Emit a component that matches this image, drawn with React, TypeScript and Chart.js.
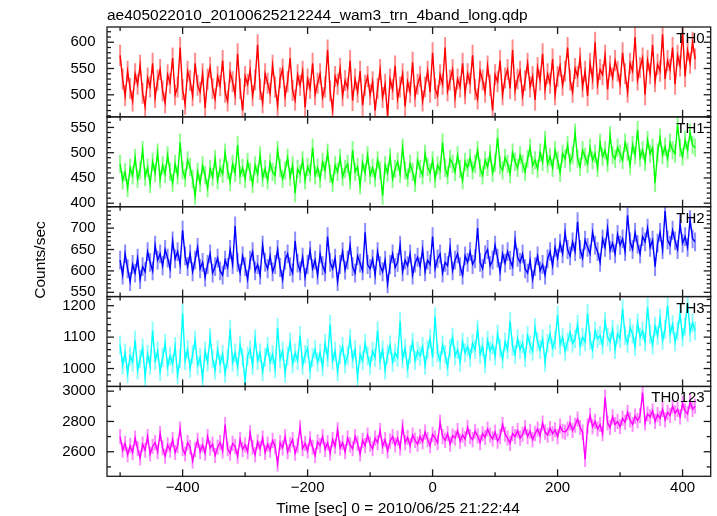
import React, { useEffect, useRef } from 'react';
import { Chart, registerables } from 'chart.js';

Chart.register(...registerables);

const TITLE = 'ae405022010_20100625212244_wam3_trn_4band_long.qdp';
const X_LABEL = 'Time [sec] 0 = 2010/06/25 21:22:44';
const Y_LABEL = 'Counts/sec';

// time grid of the light curve bins (seconds)
const BIN_START = -500;
const BIN_WIDTH = 4;
const X_MIN = -521;
const X_MAX = 445;
const X_MAJOR = [-400, -200, 0, 200, 400];
const X_MINOR_STEP = 100;

const bandNames = ['TH0', 'TH1', 'TH2', 'TH3', 'TH0123'];

const th0 = [
  575, 530, 498, 545, 512, 488, 540, 520, 556, 503, 478, 532, 515, 560, 495, 528, 548, 507, 485, 538,
  522, 570, 500, 515, 590, 510, 482, 545, 527, 498, 560, 518, 505, 540, 475, 530, 552, 512, 492, 535,
  517, 565, 505, 488, 543, 525, 500, 578, 512, 470, 535, 520, 547, 498, 528, 595, 510, 485, 540, 522,
  503, 556, 515, 480, 532, 549, 497, 525, 570, 508, 490, 538, 518, 545, 476, 530, 512, 560, 500, 522,
  540, 495, 515, 585, 507, 472, 535, 520, 550, 498, 527, 513, 565, 489, 530, 505, 545, 480, 518, 535,
  500, 525, 470, 512, 548, 495, 520, 460, 530, 510, 555, 492, 515, 540, 478, 525, 505, 562, 497, 520,
  535, 488, 515, 545, 505, 580, 512, 498, 538, 520, 590, 507, 528, 548, 495, 530, 515, 560, 502, 540,
  522, 575, 510, 492, 545, 528, 505, 555, 518, 470, 538, 525, 565, 500, 532, 548, 512, 585, 508, 530,
  545, 498, 527, 560, 515, 535, 490, 552, 528, 578, 510, 540, 522, 568, 500, 535, 555, 518, 545, 590,
  528, 505, 550, 535, 570, 515, 545, 498, 560, 530, 600, 520, 548, 538, 575, 510, 555, 532, 565, 545,
  520, 580, 540, 505, 560, 545, 610, 528, 552, 570, 500, 565, 540, 595, 525, 558, 545, 615, 530, 565,
  548, 590, 520, 575, 555, 620, 535, 585, 560, 600, 568,
];

const th1 = [
  478, 445, 462, 430, 470, 455, 490, 448, 465, 505, 452, 470, 438, 482, 460, 500, 447, 475, 458, 495,
  462, 440, 478, 455, 520, 465, 450, 485, 472, 448, 415, 462, 440, 475, 455, 430, 468, 452, 488, 445,
  470, 458, 500, 465, 442, 478, 460, 515, 455, 470, 448, 482, 462, 438, 475, 458, 495, 450, 468, 445,
  480, 462, 455, 505, 470, 448, 465, 490, 452, 475, 420, 468, 458, 485, 445, 472, 460, 510, 455, 470,
  448, 482, 465, 500, 458, 440, 475, 462, 490, 452, 468, 478, 445, 505, 462, 472, 435, 480, 460, 495,
  455, 470, 450, 485, 465, 415, 475, 460, 492, 448, 468, 482, 458, 510, 465, 450, 478, 462, 440, 485,
  468, 455, 498, 472, 460, 485, 448, 475, 465, 520, 470, 455, 488, 478, 462, 495, 468, 445, 482, 470,
  490, 465, 478, 505, 470, 455, 485, 472, 498, 460, 480, 530, 475, 465, 490, 478, 458, 500, 482, 470,
  495, 478, 462, 488, 510, 475, 485, 468, 500, 482, 525, 478, 492, 470, 505, 485, 460, 498, 488, 515,
  480, 495, 540, 488, 472, 505, 492, 478, 510, 485, 498, 470, 520, 492, 505, 480, 535, 495, 488, 510,
  498, 485, 520, 502, 475, 515, 495, 545, 490, 505, 482, 525, 498, 510, 440, 500, 530, 495, 512, 488,
  520, 505, 498, 555, 510, 492, 525, 505, 540, 515, 510,
];

const th2 = [
  625, 590, 640, 605, 575, 615, 595, 630, 580, 610, 598, 645, 620, 600, 660, 625, 640, 612, 650, 630,
  605, 670, 628, 645, 615, 695, 635, 610, 640, 598, 625, 655, 605, 620, 585, 615, 640, 595, 610, 630,
  600, 590, 625, 608, 650, 615, 705, 620, 595, 635, 610, 580, 625, 645, 600, 615, 590, 660, 620, 605,
  635, 598, 615, 650, 608, 580, 625, 640, 610, 595, 670, 618, 600, 632, 585, 615, 648, 605, 625, 590,
  640, 612, 598, 680, 620, 605, 630, 575, 615, 645, 602, 625, 660, 610, 595, 635, 618, 600, 690, 615,
  605, 628, 590, 645, 612, 598, 625, 570, 615, 640, 608, 620, 660, 598, 625, 612, 640, 590, 618, 632,
  610, 650, 598, 625, 615, 680, 605, 628, 640, 595, 620, 612, 655, 600, 625, 640, 610, 590, 635, 620,
  645, 615, 628, 700, 620, 605, 638, 650, 612, 625, 660, 630, 598, 640, 618, 645, 625, 610, 672, 632,
  620, 640, 605, 595, 625, 580, 610, 635, 600, 615, 590, 628, 645, 612, 655, 630, 665, 640, 690, 650,
  635, 668, 645, 715, 650, 630, 672, 655, 640, 690, 660, 645, 620, 675, 655, 700, 648, 665, 640, 685,
  660, 675, 645, 730, 668, 650, 690, 662, 640, 680, 668, 700, 655, 672, 610, 665, 690, 650, 740, 672,
  660, 695, 670, 650, 710, 665, 680, 655, 720, 675, 668,
];

const th3 = [
  1075, 1010, 1050, 985, 1040, 1020, 1090, 995, 1030, 1065, 975, 1045, 1010, 1120, 1025, 1055, 990, 1035, 1080, 1005,
  1040, 1015, 1070, 980, 1030, 1175, 1025, 1060, 1000, 1045, 1090, 1010, 1035, 970, 1055, 1020, 1100, 1030, 995, 1060,
  1015, 1045, 985, 1030, 1125, 1020, 1050, 1005, 1075, 1035, 960, 1040, 1060, 1010, 1095, 1025, 1050, 990, 1035, 1070,
  1020, 1045, 1000, 1130, 1030, 1055, 985, 1040, 1085, 1015, 1050, 1025, 1105, 1010, 1045, 1065, 995, 1035, 1060, 1020,
  1050, 1005, 1080, 1035, 1140, 1025, 1055, 990, 1045, 1070, 1015, 1040, 1095, 1030, 1060, 975, 1045, 1025, 1080, 1040,
  1010, 1055, 1035, 1120, 1025, 1060, 995, 1045, 1075, 1020, 1050, 1035, 1150, 1030, 1065, 1000, 1045, 1085, 1025, 1055,
  1040, 1070, 1010, 1060, 1095, 1035, 1165, 1050, 1025, 1075, 1045, 1005, 1065, 1100, 1040, 1060, 1020, 1085, 1050, 1070,
  1035, 1080, 1060, 1125, 1045, 1070, 1015, 1090, 1055, 1075, 1040, 1110, 1065, 1030, 1085, 1060, 1150, 1070, 1045, 1095,
  1060, 1080, 1035, 1105, 1075, 1055, 1130, 1085, 1060, 1095, 1020, 1080, 1110, 1065, 1090, 1170, 1075, 1100, 1055, 1085,
  1115, 1080, 1095, 1140, 1070, 1100, 1085, 1175, 1090, 1060, 1120, 1095, 1105, 1075, 1150, 1100, 1085, 1125, 1060, 1110,
  1095, 1190, 1105, 1080, 1130, 1110, 1070, 1145, 1100, 1120, 1085, 1195, 1110, 1075, 1135, 1105, 1160, 1090, 1125, 1200,
  1110, 1140, 1085, 1120, 1175, 1100, 1135, 1210, 1115, 1145, 1120,
];

const th0123 = [
  2700, 2610, 2655, 2580, 2640, 2595, 2690, 2620, 2560, 2650, 2610, 2700, 2585, 2635, 2660, 2600, 2720, 2625, 2570, 2645,
  2610, 2680, 2595, 2640, 2750, 2620, 2585, 2660, 2630, 2540, 2615, 2675, 2600, 2645, 2590, 2700, 2625, 2650, 2575, 2630,
  2660, 2605, 2780, 2620, 2590, 2655, 2635, 2570, 2680, 2615, 2645, 2600, 2725, 2630, 2580, 2665, 2620, 2690, 2595, 2650,
  2610, 2675, 2635, 2520, 2660, 2625, 2700, 2600, 2645, 2680, 2590, 2640, 2760, 2620, 2655, 2605, 2685, 2630, 2575, 2665,
  2640, 2700, 2615, 2660, 2590, 2680, 2635, 2745, 2625, 2660, 2600, 2690, 2645, 2620, 2700, 2655, 2585, 2675, 2640, 2710,
  2650, 2620, 2690, 2660, 2740, 2635, 2680, 2605, 2670, 2700, 2645, 2690, 2625, 2765, 2660, 2695, 2640, 2710, 2675, 2650,
  2700, 2665, 2730, 2680, 2640, 2715, 2690, 2660, 2795, 2700, 2675, 2720, 2650, 2705, 2690, 2740, 2670, 2710, 2685, 2760,
  2700, 2680, 2735, 2705, 2660, 2720, 2695, 2750, 2710, 2685, 2730, 2670, 2700, 2780, 2715, 2690, 2655, 2720, 2700, 2740,
  2690, 2715, 2760, 2700, 2735, 2680, 2720, 2750, 2705, 2790, 2730, 2710, 2755, 2720, 2745, 2700, 2770, 2735, 2730, 2750,
  2790, 2740, 2775, 2815, 2760, 2730, 2550, 2770, 2840, 2765, 2800, 2750, 2780, 2720, 2960, 2790, 2760, 2830, 2780, 2800,
  2765, 2820, 2795, 2860, 2810, 2780, 2835, 2805, 2840, 2990, 2790, 2850, 2830, 2870, 2800, 2845, 2820, 2880, 2810, 2860,
  2840, 2900, 2855, 2880, 2830, 2920, 2870, 2850, 2930, 2880, 2900,
];

const bandSeries = [th0, th1, th2, th3, th0123];
// half length of the error bars (counts/sec)
const bandError = [20, 18, 22, 30, 50];

// axis ranges and tick values for each panel
const bandMin = [458, 393, 540, 943, 2438];
const bandMax = [629, 571, 750, 1229, 3031];
const th0Ticks = [500, 550, 600];
const th1Ticks = [400, 450, 500, 550];
const th2Ticks = [550, 600, 650, 700];
const th3Ticks = [1000, 1100, 1200];
const th0123Ticks = [2600, 2800, 3000];
const bandTicks = [th0Ticks, th1Ticks, th2Ticks, th3Ticks, th0123Ticks];
const bandMinorStep = [10, 10, 10, 20, 100];

const bandColors = ['#ff0000', '#00ff00', '#0000ff', '#00ffff', '#ff00ff'];
const bandErrColors = [
  'rgba(255,0,0,0.45)',
  'rgba(0,255,0,0.45)',
  'rgba(0,0,255,0.45)',
  'rgba(0,255,255,0.45)',
  'rgba(255,0,255,0.45)',
];

const FONT = "'Liberation Sans', Arial, Helvetica, sans-serif";
const FRAME = '#1a1a1a';

const qdpPlugin = {
  id: 'qdpFrame',
  beforeDatasetDraw(chart: any, args: any) {
    const meta = args.meta;
    const i = args.index;
    const ys = chart.scales[meta.yAxisID];
    const ctx = chart.ctx;
    const a = chart.chartArea;
    ctx.save();
    ctx.beginPath();
    ctx.rect(a.left, ys.top, a.right - a.left, ys.bottom - ys.top);
    ctx.clip();
    // error bars
    const series = bandSeries[i];
    const err = bandError[i];
    ctx.strokeStyle = bandErrColors[i];
    ctx.lineWidth = 2;
    meta.data.forEach((pt: any, k: number) => {
      const v = series[k];
      ctx.beginPath();
      ctx.moveTo(pt.x, ys.getPixelForValue(v - err));
      ctx.lineTo(pt.x, ys.getPixelForValue(v + err));
      ctx.stroke();
    });
  },
  afterDatasetDraw(chart: any) {
    chart.ctx.restore();
  },
  afterDraw(chart: any) {
    const ctx = chart.ctx;
    const { left, right } = chart.chartArea;
    const xs = chart.scales.x;
    ctx.save();
    ctx.strokeStyle = FRAME;
    ctx.lineWidth = 1.3;
    const line = (x1: number, y1: number, x2: number, y2: number) => {
      ctx.beginPath();
      ctx.moveTo(x1, y1);
      ctx.lineTo(x2, y2);
      ctx.stroke();
    };
    bandNames.forEach((name, i) => {
      const ys = chart.scales['y' + i];
      const pt = ys.top;
      const pb = ys.bottom;
      ctx.strokeRect(left, pt, right - left, pb - pt);
      const step = bandMinorStep[i];
      for (let v = Math.ceil(bandMin[i] / step) * step; v <= bandMax[i]; v += step) {
        const y = ys.getPixelForValue(v);
        const len = bandTicks[i].includes(v) ? 7 : 4;
        line(left, y, left + len, y);
        line(right, y, right - len, y);
      }
      for (let v = Math.ceil(X_MIN / X_MINOR_STEP) * X_MINOR_STEP; v <= X_MAX; v += X_MINOR_STEP) {
        const x = xs.getPixelForValue(v);
        const len = X_MAJOR.includes(v) ? 7 : 4;
        line(x, pt, x, pt + len);
        line(x, pb, x, pb - len);
      }
      ctx.fillStyle = '#000';
      ctx.font = `15px ${FONT}`;
      ctx.textAlign = 'right';
      ctx.textBaseline = 'alphabetic';
      ctx.fillText(name, right - 6, pt + 16);
    });
    ctx.fillStyle = '#000';
    ctx.font = `15.5px ${FONT}`;
    ctx.textAlign = 'left';
    ctx.textBaseline = 'alphabetic';
    ctx.fillText(TITLE, left, 20);
    ctx.textAlign = 'center';
    ctx.fillText(X_LABEL, 398, 513);
    ctx.save();
    ctx.translate(41, 260);
    ctx.rotate(-Math.PI / 2);
    ctx.textBaseline = 'middle';
    ctx.fillText(Y_LABEL, 0, 0);
    ctx.restore();
    ctx.restore();
  },
};

export default function App() {
  const ref = useRef<HTMLCanvasElement | null>(null);
  useEffect(() => {
    if (!ref.current) return;
    const datasets = bandSeries.map((series, i) => ({
      label: bandNames[i],
      data: series.map((v, k) => ({ x: BIN_START + k * BIN_WIDTH, y: v })),
      yAxisID: 'y' + i,
      borderColor: bandColors[i],
      borderWidth: 1.4,
      pointRadius: 0,
      tension: 0,
    }));
    const scales: any = {
      x: {
        type: 'linear',
        position: 'bottom',
        min: X_MIN,
        max: X_MAX,
        afterBuildTicks: (s: any) => {
          s.ticks = X_MAJOR.map((v) => ({ value: v }));
        },
        afterFit: (s: any) => {
          s.height = 39.7;
        },
        grid: { display: false, drawTicks: false },
        border: { display: false },
        ticks: {
          color: '#000',
          font: { size: 15, family: FONT },
          padding: 3,
          autoSkip: false,
          maxRotation: 0,
          callback: (v: any) => (v < 0 ? '\u2212' + Math.abs(v) : String(v)),
        },
      },
    };
    // stacked left axes are placed top-down in reverse definition order
    for (let i = bandNames.length - 1; i >= 0; i--) {
      scales['y' + i] = {
        type: 'linear',
        position: 'left',
        stack: 'bands',
        stackWeight: 1,
        min: bandMin[i],
        max: bandMax[i],
        afterBuildTicks: (s: any) => {
          s.ticks = bandTicks[i].map((v) => ({ value: v }));
        },
        afterFit: (s: any) => {
          s.width = 107;
        },
        grid: { display: false, drawTicks: false },
        border: { display: false },
        ticks: {
          color: '#000',
          font: { size: 15, family: FONT },
          padding: 11.5,
          autoSkip: false,
          callback: (v: any) => String(v),
        },
      };
    }
    const chart = new Chart(ref.current, {
      type: 'line',
      data: { datasets },
      options: {
        responsive: false,
        animation: false,
        devicePixelRatio: 1,
        layout: { padding: { top: 27, right: 6.3, left: 0, bottom: 0 } },
        plugins: { legend: { display: false }, tooltip: { enabled: false }, title: { display: false } },
        scales,
      },
      plugins: [qdpPlugin],
    } as any);
    return () => chart.destroy();
  }, []);
  return (
    <canvas
      ref={ref}
      width={717}
      height={516}
      style={{ position: 'absolute', left: 0, top: 0, width: 717, height: 516, background: '#fff' }}
    />
  );
}
